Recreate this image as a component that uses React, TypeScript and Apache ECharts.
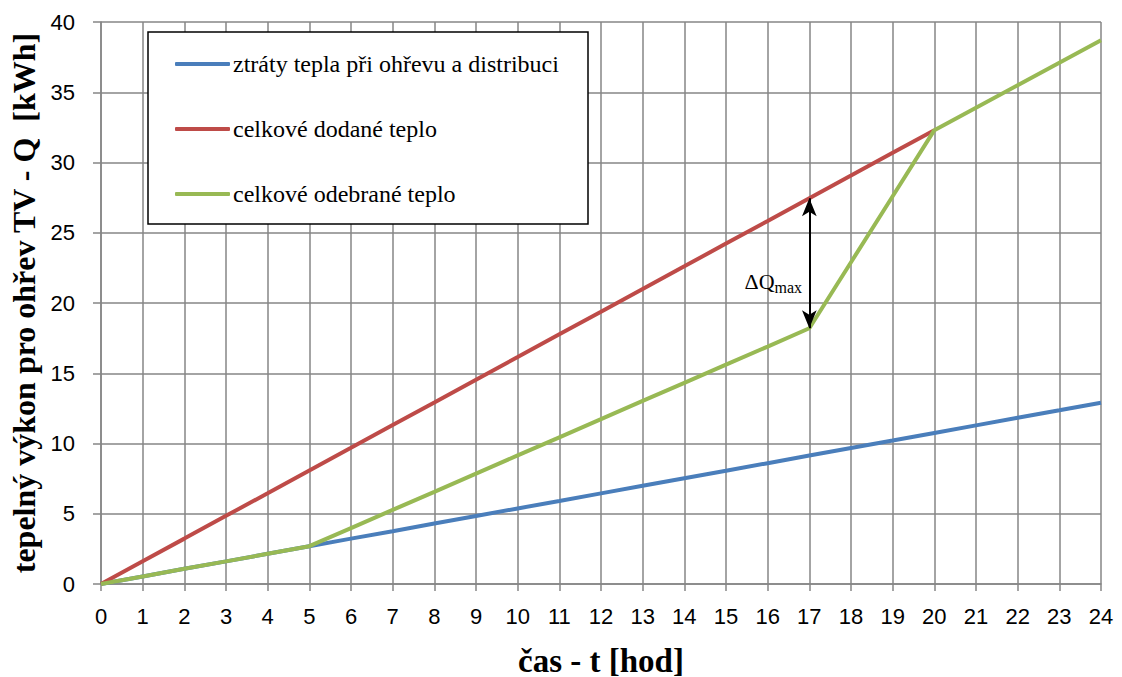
import React, { useEffect, useRef } from "react";
import * as echarts from "echarts";

const hours = ["0","1","2","3","4","5","6","7","8","9","10","11","12","13","14","15","16","17","18","19","20","21","22","23","24"];
const ztraty = [0, 0.54, 1.08, 1.61, 2.15, 2.69, 3.23, 3.76, 4.30, 4.84, 5.38, 5.91, 6.45, 6.99, 7.53, 8.06, 8.60, 9.14, 9.68, 10.21, 10.75, 11.29, 11.83, 12.36, 12.90];
const dodane = [0, 1.62, 3.23, 4.85, 6.46, 8.08, 9.69, 11.31, 12.92, 14.54, 16.15, 17.77, 19.38, 21.0, 22.61, 24.23, 25.84, 27.46, 29.07, 30.69, 32.3, null, null, null, null];
const odebrane = [0, 0.54, 1.08, 1.61, 2.15, 2.69, 3.98, 5.27, 6.56, 7.86, 9.15, 10.44, 11.73, 13.03, 14.32, 15.61, 16.9, 18.2, 22.9, 27.6, 32.3, 33.9, 35.5, 37.1, 38.7];
const seriesNames = ["ztráty tepla při ohřevu a distribuci", "celkové dodané teplo", "celkové odebrané teplo"];
const arrowTop = 27.46;
const arrowBottom = 18.2;
const arrowHour = 17;
const labelLevel = 21.5;

export default function App() {
  const ref = useRef<HTMLDivElement>(null);
  useEffect(() => {
    if (!ref.current) return;
    const chart = echarts.init(ref.current, null, { renderer: "svg" });
    const serif = "Liberation Serif";
    const sans = "Liberation Sans";
    const lineSeries = (name: string, data: any[], color: string, z: number) => ({
      name,
      type: "line",
      data: data.map((v, i) => (v === null ? null : [i, v])),
      showSymbol: false,
      symbol: "none",
      lineStyle: { color, width: 4 },
      itemStyle: { color },
      z,
    });
    const green = lineSeries(seriesNames[2], odebrane, "#98b954", 4) as any;
    green.markLine = {
      silent: true,
      symbol: ["arrow", "arrow"],
      symbolSize: [11, 18],
      lineStyle: { color: "#000", width: 2, type: "solid" },
      label: { show: false },
      data: [[{ coord: [arrowHour, arrowTop] }, { coord: [arrowHour, arrowBottom] }]],
    };
    green.markPoint = {
      silent: true,
      symbol: "circle",
      symbolSize: 0,
      data: [{ coord: [arrowHour, labelLevel] }],
      label: {
        show: true,
        offset: [-36, 0],
        formatter: "{a|ΔQ}{b|max}",
        rich: {
          a: { fontFamily: serif, fontSize: 22, color: "#000" },
          b: { fontFamily: serif, fontSize: 16, color: "#000", padding: [12, 0, 0, 0] },
        },
      },
    };
    chart.setOption({
      animation: false,
      backgroundColor: "#fff",
      grid: { left: 101, top: 22, width: 1000, height: 562, containLabel: false, outerBoundsMode: "none" },
      xAxis: {
        type: "value",
        min: 0,
        max: 24,
        interval: 1,
        axisLine: { show: true, lineStyle: { color: "#868686", width: 1.5 } },
        axisTick: { show: true, length: 7, lineStyle: { color: "#868686", width: 1.5 } },
        axisLabel: { fontFamily: sans, fontSize: 22, color: "#000", margin: 21, formatter: (v: number) => hours[v] ?? "" },
        splitLine: { show: true, lineStyle: { color: "#868686", width: 1.5 } },
        name: "čas - t [hod]",
        nameLocation: "middle",
        nameGap: 60,
        nameTextStyle: { fontFamily: serif, fontWeight: "bold", fontSize: 33, color: "#000" },
      },
      yAxis: {
        type: "value",
        min: 0,
        max: 40,
        interval: 5,
        axisLine: { show: true, lineStyle: { color: "#868686", width: 1.5 } },
        axisTick: { show: true, length: 8, lineStyle: { color: "#868686", width: 1.5 } },
        axisLabel: { fontFamily: sans, fontSize: 22, color: "#000", margin: 26 },
        splitLine: { show: true, lineStyle: { color: "#868686", width: 1.5 } },
        name: "tepelný výkon pro ohřev TV - Q  [kWh]",
        nameLocation: "middle",
        nameGap: 60,
        nameTextStyle: { fontFamily: serif, fontWeight: "bold", fontSize: 32, color: "#000" },
      },
      graphic: [
        {
          type: "rect",
          shape: { x: 148, y: 32, width: 440, height: 192 },
          style: { fill: "#fff", stroke: "#000", lineWidth: 1.5 },
          z: 10,
        },
      ],
      legend: {
        orient: "vertical",
        left: 170,
        top: 47,
        itemWidth: 55,
        itemHeight: 4,
        itemGap: 41,
        icon: "roundRect",
        z: 20,
        textStyle: { fontFamily: serif, fontSize: 24, color: "#000", padding: [0, 0, 0, -2] },
        data: seriesNames,
      },
      series: [
        lineSeries(seriesNames[0], ztraty, "#4a7ebb", 2),
        lineSeries(seriesNames[1], dodane, "#be4b48", 3),
        green,
      ],
    });
    return () => chart.dispose();
  }, []);
  return <div ref={ref} style={{ position: "absolute", left: 0, top: 0, width: 1122, height: 677 }} />;
}
